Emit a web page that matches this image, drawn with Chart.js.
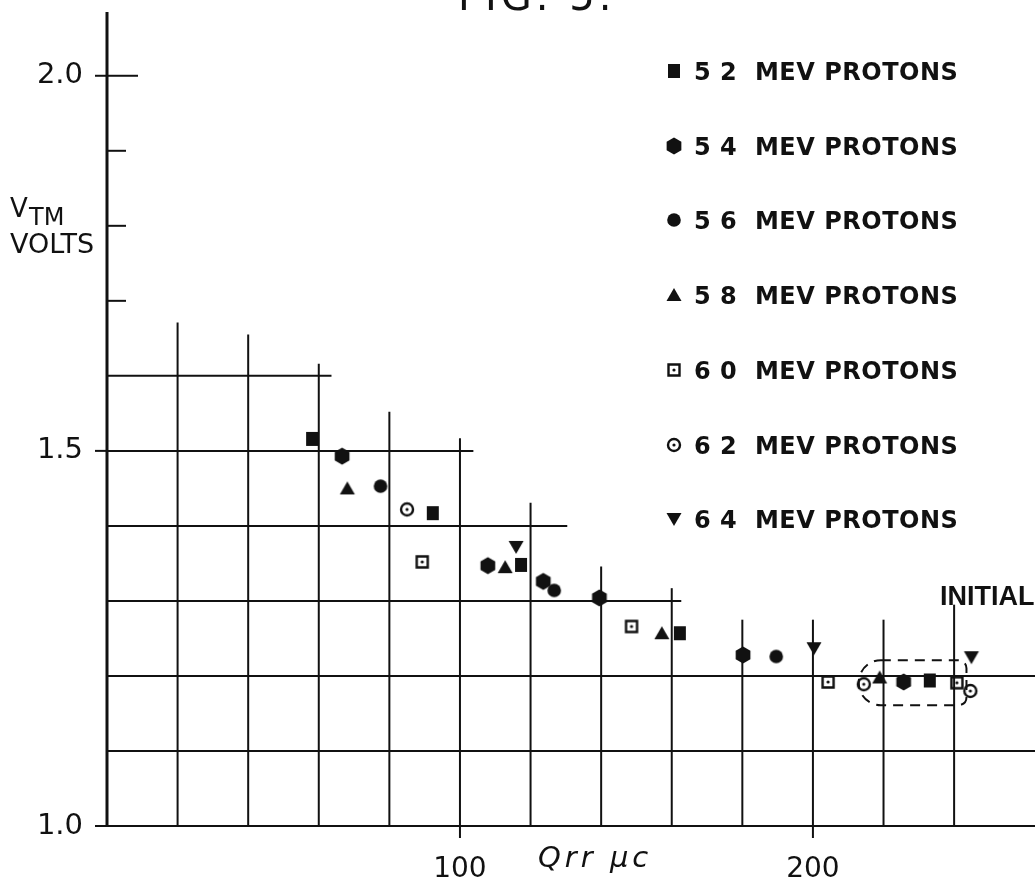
<!DOCTYPE html>
<html>
<head>
<meta charset="utf-8">
<title>FIG. 5</title>
<script src="https://cdn.jsdelivr.net/npm/chart.js@4.4.1/dist/chart.umd.min.js"></script>
<style>
  html, body { margin: 0; padding: 0; background: #fff; }
  #wrap { width: 1035px; height: 877px; }
</style>
</head>
<body>
<div id="wrap"><canvas id="fig5" width="1035" height="877"></canvas></div>
<script>
// values (Qrr in uC, VTM in volts)
const seriesLabels = ['5 2  MEV PROTONS', '5 4  MEV PROTONS', '5 6  MEV PROTONS', '5 8  MEV PROTONS',
                      '6 0  MEV PROTONS', '6 2  MEV PROTONS', '6 4  MEV PROTONS'];
const seriesMarkers = ['square', 'hexagon', 'dot', 'triangle', 'openSquare', 'openCircle', 'triangleDown'];

const q52 = [58.1, 92.3, 117.3, 162.3, 233.1];
const v52 = [1.516, 1.417, 1.348, 1.257, 1.194];
const q54 = [66.6, 107.9, 123.6, 139.5, 180.2, 225.7];
const v54 = [1.493, 1.347, 1.326, 1.304, 1.228, 1.192];
const q56 = [77.5, 126.7, 189.6];
const v56 = [1.453, 1.314, 1.226];
const q58 = [68.1, 112.8, 157.2, 218.9];
const v58 = [1.450, 1.345, 1.257, 1.198];
const q60 = [89.3, 148.6, 204.3, 240.8];
const v60 = [1.352, 1.266, 1.192, 1.191];
const q62 = [85.0, 214.4, 244.6];
const v62 = [1.422, 1.189, 1.180];
const q64 = [115.9, 200.3, 244.9];
const v64 = [1.372, 1.237, 1.225];

const seriesQ = [q52, q54, q56, q58, q60, q62, q64];
const seriesV = [v52, v54, v56, v58, v60, v62, v64];

// axes and the stepped grid of the drawing
const xTickLabels = [100, 200];
const yTickLabels = [1.0, 1.5, 2.0];
const yMinorTicks = [1.7, 1.8, 1.9, 2.0];
const gridXs = [20, 40, 60, 80, 100, 120, 140, 160, 180, 200, 220, 240];
const gridXTops = [1.671, 1.655, 1.616, 1.552, 1.517, 1.431, 1.346, 1.317, 1.275, 1.275, 1.275, 1.295];
const gridYs = [1.6, 1.5, 1.4, 1.3, 1.2, 1.1, 1.0];
const gridYEnds = [63.6, 103.8, 130.4, 162.7, null, null, null];
const initialBox = [213, 243.5, 1.161, 1.221]; // dashed outline round the initial readings

const INK = '#111';
const FONT = "'DejaVu Sans', sans-serif";

function makeMarker(kind) {
  const c = document.createElement('canvas');
  c.width = 20; c.height = 20;
  const g = c.getContext('2d');
  g.fillStyle = INK; g.strokeStyle = INK; g.lineWidth = 2.4;
  const m = 10;
  g.beginPath();
  if (kind === 'square') {
    g.rect(m - 6, m - 7, 12, 14); g.fill();
  } else if (kind === 'hexagon') {
    for (let i = 0; i < 6; i++) {
      const a = -Math.PI / 2 + i * Math.PI / 3;
      g.lineTo(m + 8.5 * Math.cos(a), m + 8.5 * Math.sin(a));
    }
    g.closePath(); g.fill();
  } else if (kind === 'dot') {
    g.arc(m, m, 6.8, 0, Math.PI * 2); g.fill();
  } else if (kind === 'triangle') {
    g.moveTo(m, m - 7); g.lineTo(m + 7.5, m + 6); g.lineTo(m - 7.5, m + 6); g.closePath(); g.fill();
  } else if (kind === 'triangleDown') {
    g.moveTo(m - 7.5, m - 6); g.lineTo(m + 7.5, m - 6); g.lineTo(m, m + 7); g.closePath(); g.fill();
  } else if (kind === 'openSquare') {
    g.rect(m - 5.5, m - 5.5, 11, 11); g.stroke();
    g.beginPath(); g.arc(m, m, 1.6, 0, Math.PI * 2); g.fill();
  } else if (kind === 'openCircle') {
    g.arc(m, m, 6, 0, Math.PI * 2); g.stroke();
    g.beginPath(); g.arc(m, m, 1.6, 0, Math.PI * 2); g.fill();
  }
  return c;
}

const markers = seriesMarkers.map(makeMarker);

const datasets = seriesLabels.map((label, i) => ({
  label: label,
  data: seriesQ[i].map((q, j) => ({ x: q, y: seriesV[i][j] })),
  pointStyle: markers[i],
  showLine: false,
  borderColor: INK,
  backgroundColor: INK
}));

function line(ctx, x1, y1, x2, y2) {
  ctx.beginPath(); ctx.moveTo(x1, y1); ctx.lineTo(x2, y2); ctx.stroke();
}

function noPadding(s) {
  s.paddingTop = 0; s.paddingBottom = 0; s.paddingLeft = 0; s.paddingRight = 0;
}

const paperPlugin = {
  id: 'paper',
  beforeDatasetsDraw(chart) {
    const ctx = chart.ctx, xs = chart.scales.x, ys = chart.scales.y, area = chart.chartArea;
    ctx.save();
    ctx.strokeStyle = INK;
    ctx.lineCap = 'butt';
    // stepped grid
    ctx.lineWidth = 2;
    gridXs.forEach((gx, i) => {
      const px = xs.getPixelForValue(gx);
      line(ctx, px, ys.getPixelForValue(1.0), px, ys.getPixelForValue(gridXTops[i]));
    });
    gridYs.forEach((gy, i) => {
      const py = ys.getPixelForValue(gy);
      const end = gridYEnds[i] === null ? chart.width : xs.getPixelForValue(gridYEnds[i]);
      line(ctx, area.left, py, end, py);
    });
    // y axis and its marks
    ctx.lineWidth = 3;
    const ax = xs.getPixelForValue(0);
    line(ctx, ax, ys.getPixelForValue(1.0) + 1, ax, area.top);
    ctx.lineWidth = 2;
    yMinorTicks.forEach(v => {
      const py = ys.getPixelForValue(v);
      line(ctx, ax, py, ax + (v === 2.0 ? 31 : 19), py);
    });
    yTickLabels.forEach(v => {
      const py = ys.getPixelForValue(v);
      line(ctx, ax - 12, py, ax, py);
    });
    xTickLabels.forEach(v => {
      const px = xs.getPixelForValue(v);
      line(ctx, px, area.bottom, px, area.bottom + 12);
    });
    // dashed outline
    const bx1 = xs.getPixelForValue(initialBox[0]), bx2 = xs.getPixelForValue(initialBox[1]);
    const by1 = ys.getPixelForValue(initialBox[3]), by2 = ys.getPixelForValue(initialBox[2]);
    ctx.setLineDash([10, 7]);
    ctx.beginPath();
    ctx.roundRect(bx1, by1, bx2 - bx1, by2 - by1, [22, 8, 8, 22]);
    ctx.stroke();
    ctx.restore();
  },
  afterDraw(chart) {
    const ctx = chart.ctx;
    ctx.save();
    ctx.fillStyle = INK;
    ctx.textAlign = 'left';
    ctx.textBaseline = 'alphabetic';
    // title, cut off by the top of the sheet
    ctx.font = '40px ' + FONT;
    ctx.letterSpacing = '4px';
    ctx.fillText('FIG. 5.', 458, 10);
    // legend
    ctx.font = 'bold 24px ' + FONT;
    ctx.letterSpacing = '0.5px';
    chart.data.datasets.forEach((ds, i) => {
      const ry = 71 + i * 74.7;
      const mk = ds.pointStyle;
      ctx.drawImage(mk, 674 - mk.width / 2, Math.round(ry) - mk.height / 2);
      ctx.fillText(ds.label, 694, ry + 9);
    });
    ctx.letterSpacing = '0px';
    // axis names
    ctx.font = '26px ' + FONT;
    ctx.fillText('V', 10, 217);
    ctx.font = '24px ' + FONT;
    ctx.fillText('TM', 29, 225);
    ctx.font = '27px ' + FONT;
    ctx.fillText('VOLTS', 10, 253);
    ctx.font = 'italic 29px ' + FONT;
    ctx.letterSpacing = '4px';
    ctx.fillText('Qrr \u00b5c', 538, 867);
    ctx.letterSpacing = '0px';
    ctx.font = "bold 27px 'Liberation Sans', sans-serif";
    ctx.fillText('INITIAL', 940, 605);
    ctx.restore();
  }
};

new Chart(document.getElementById('fig5'), {
  type: 'scatter',
  data: { datasets: datasets },
  options: {
    responsive: false,
    animation: false,
    events: [],
    layout: { padding: { top: 12, right: 0, left: 0, bottom: 0 } },
    plugins: { legend: { display: false }, tooltip: { enabled: false } },
    scales: {
      x: {
        type: 'linear', min: 0, max: 261.5,
        grid: { display: false }, border: { display: false },
        afterBuildTicks: s => { s.ticks = xTickLabels.map(v => ({ value: v })); },
        afterFit: s => { s.height = 51; noPadding(s); },
        ticks: { color: INK, font: { family: FONT, size: 28 }, padding: 19, maxRotation: 0 }
      },
      y: {
        type: 'linear', min: 1.0, max: 2.085,
        grid: { display: false }, border: { display: false },
        afterBuildTicks: s => { s.ticks = yTickLabels.map(v => ({ value: v })); },
        afterFit: s => { s.width = 107; noPadding(s); },
        ticks: { color: INK, font: { family: FONT, size: 29 }, padding: 16, callback: v => v.toFixed(1) }
      }
    }
  },
  plugins: [paperPlugin]
});
</script>
</body>
</html>
